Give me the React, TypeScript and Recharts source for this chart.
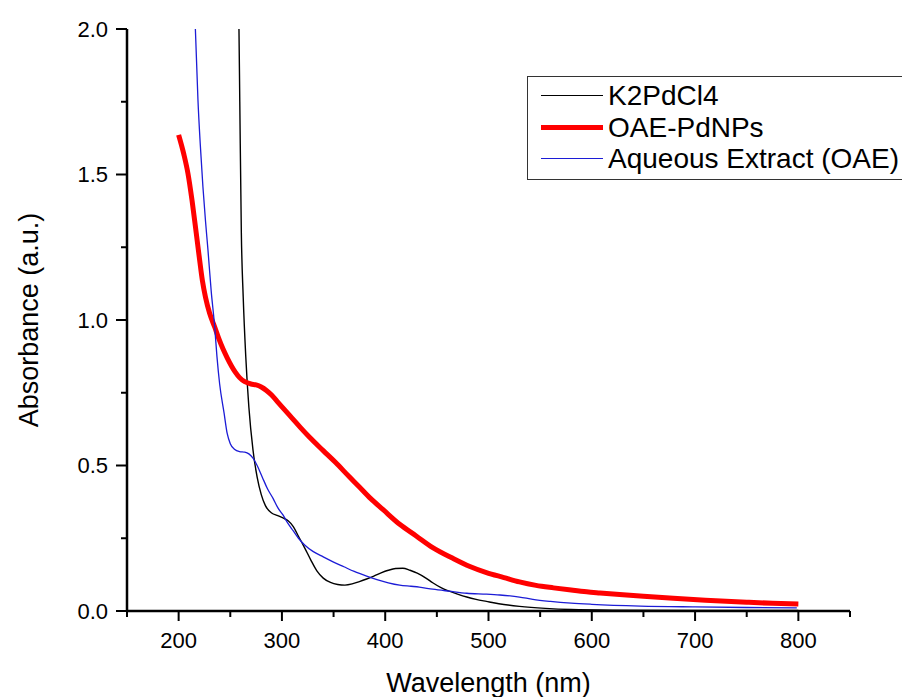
import { Label, Line, LineChart, XAxis, YAxis } from "recharts";

// wavelength (nm) / absorbance pairs
const k2Wave = [256, 258.4, 259.2, 260.7, 262.5, 265, 268, 272, 276, 280, 284, 290, 296, 301, 306, 311, 316, 322, 328, 334, 340, 347, 354, 361, 368, 375, 382, 389, 396, 403, 410, 417, 424, 431, 439, 446, 454, 462, 470, 479, 488, 498, 510, 530, 555, 580, 620, 700, 800];
const k2Abs = [2.3, 2.0, 1.75, 1.3, 1.08, 0.874, 0.7, 0.553, 0.46, 0.4, 0.362, 0.337, 0.328, 0.32, 0.31, 0.29, 0.257, 0.217, 0.175, 0.137, 0.113, 0.098, 0.091, 0.089, 0.093, 0.101, 0.11, 0.12, 0.131, 0.14, 0.146, 0.147, 0.14, 0.13, 0.114, 0.097, 0.08, 0.068, 0.058, 0.048, 0.04, 0.033, 0.025, 0.016, 0.009, 0.005, 0.003, 0.002, 0.002];

const pdWave = [200, 205, 209, 213, 217, 220, 223, 226, 230, 235, 239, 243, 247, 251, 255, 259, 264, 270, 275, 280, 285, 290, 296, 304, 310, 318, 327, 340, 352, 365, 375, 386, 398, 414, 430, 446, 465, 482, 498, 515, 530, 546, 563, 580, 595, 608, 627, 650, 679, 710, 750, 775, 800];
const pdAbs = [1.636, 1.57, 1.504, 1.41, 1.3, 1.215, 1.135, 1.078, 1.023, 0.975, 0.935, 0.9, 0.87, 0.843, 0.82, 0.802, 0.788, 0.78, 0.777, 0.77, 0.758, 0.742, 0.718, 0.686, 0.662, 0.63, 0.596, 0.551, 0.51, 0.462, 0.426, 0.386, 0.348, 0.298, 0.258, 0.218, 0.182, 0.153, 0.132, 0.115, 0.1, 0.088, 0.0795, 0.072, 0.066, 0.062, 0.0565, 0.0505, 0.0435, 0.037, 0.03, 0.0265, 0.024];

const oaeWave = [214, 216.2, 218.7, 221, 223.5, 226, 228.4, 231.5, 234.9, 237.1, 239.7, 244, 247, 250, 254, 259, 264, 268, 272, 276, 281, 286, 291.4, 296, 301, 306, 311, 316, 322, 330, 340, 349.5, 360, 370, 382, 392, 403, 414, 425, 433, 446, 462, 479, 498, 511, 530, 543, 560, 580, 600, 647, 700, 750, 798.5];
const oaeAbs = [2.25, 2.0, 1.756, 1.6, 1.458, 1.34, 1.24, 1.1, 0.977, 0.874, 0.78, 0.68, 0.61, 0.575, 0.556, 0.548, 0.546, 0.54, 0.525, 0.5, 0.46, 0.42, 0.387, 0.355, 0.33, 0.3, 0.275, 0.25, 0.227, 0.205, 0.186, 0.169, 0.152, 0.136, 0.12, 0.108, 0.097, 0.089, 0.085, 0.082, 0.075, 0.068, 0.061, 0.058, 0.055, 0.048, 0.04, 0.033, 0.027, 0.023, 0.017, 0.014, 0.012, 0.011];

const seriesNames = ["K2PdCl4", "OAE-PdNPs", "Aqueous Extract (OAE)"];
const seriesColors = ["#000000", "#ff0000", "#1c1cd6"];
const seriesWidths = [1.4, 5, 1.3];

const xTicks = [150, 200, 250, 300, 350, 400, 450, 500, 550, 600, 650, 700, 750, 800, 850];
const yTicks = [0, 0.25, 0.5, 0.75, 1.0, 1.25, 1.5, 1.75, 2.0];

const toPoints = (xs: number[], ys: number[]) => xs.map((x, i) => ({ x, y: ys[i] }));

const font = "Arial, 'Liberation Sans', sans-serif";

function XTick({ x, y, payload }: any) {
  const major = payload.value % 100 === 0;
  return (
    <g>
      <line x1={x} y1={y} x2={x} y2={y + (major ? 10 : 6)} stroke="#000" strokeWidth={2} />
      {major && (
        <text x={x} y={y + 37} textAnchor="middle" fontSize={22} fontFamily={font} fill="#000">
          {payload.value}
        </text>
      )}
    </g>
  );
}

function YTick({ x, y, payload }: any) {
  const major = Math.abs(payload.value * 2 - Math.round(payload.value * 2)) < 1e-6;
  return (
    <g>
      <line x1={x} y1={y} x2={x - (major ? 11 : 6)} y2={y} stroke="#000" strokeWidth={2} />
      {major && (
        <text x={x - 19} y={y + 7.5} textAnchor="end" fontSize={22} fontFamily={font} fill="#000">
          {payload.value.toFixed(1)}
        </text>
      )}
    </g>
  );
}

function XTitle({ viewBox }: any) {
  return (
    <text x={viewBox.x + viewBox.width / 2} y={viewBox.y + 81} textAnchor="middle" fontSize={27} fontFamily={font} fill="#000">
      Wavelength (nm)
    </text>
  );
}

function YTitle({ viewBox }: any) {
  const cx = viewBox.x + 38;
  const cy = viewBox.y + viewBox.height / 2;
  return (
    <text x={cx} y={cy} transform={`rotate(-90 ${cx} ${cy})`} textAnchor="middle" fontSize={27} fontFamily={font} fill="#000">
      Absorbance (a.u.)
    </text>
  );
}

// legend box runs off the right edge in the original
function LegendBox() {
  return (
    <div
      style={{
        position: "absolute",
        left: 527,
        top: 76,
        width: 380,
        height: 104,
        borderTop: "1.5px solid #333",
        borderBottom: "1.5px solid #333",
        borderLeft: "1.5px solid #333",
        boxSizing: "border-box",
        background: "#fff",
        fontFamily: font,
        fontSize: 28,
        color: "#000",
        paddingTop: 3
      }}
    >
      {seriesNames.map((name, i) => (
        <div key={name} style={{ display: "flex", alignItems: "center", height: 31.5, whiteSpace: "nowrap" }}>
          <div style={{ marginLeft: 13, width: 62, height: seriesWidths[i], background: seriesColors[i], flex: "none" }} />
          <span style={{ marginLeft: 5, lineHeight: "31px" }}>{name}</span>
        </div>
      ))}
    </div>
  );
}

export default function App() {
  const series = [toPoints(k2Wave, k2Abs), toPoints(pdWave, pdAbs), toPoints(oaeWave, oaeAbs)];

  return (
    <div style={{ position: "absolute", left: 0, top: 0, width: 902, height: 697, overflow: "hidden", background: "#fff" }}>
      <LineChart width={902} height={697} margin={{ top: 29, right: 52, bottom: 0, left: 0 }}>
        <XAxis
          type="number"
          dataKey="x"
          domain={[150, 850]}
          ticks={xTicks}
          interval={0}
          allowDataOverflow
          height={86}
          tickSize={0}
          tickMargin={0}
          tick={XTick}
          axisLine={{ stroke: "#000", strokeWidth: 2.5 }}
        >
          <Label content={XTitle} />
        </XAxis>
        <YAxis
          type="number"
          domain={[0, 2]}
          ticks={yTicks}
          interval={0}
          allowDataOverflow
          width={127}
          tickSize={0}
          tickMargin={0}
          tick={YTick}
          axisLine={{ stroke: "#000", strokeWidth: 2.5 }}
        >
          <Label content={YTitle} />
        </YAxis>
        {series.map((data, i) => (
          <Line
            key={seriesNames[i]}
            data={data}
            dataKey="y"
            name={seriesNames[i]}
            type="monotone"
            stroke={seriesColors[i]}
            strokeWidth={seriesWidths[i]}
            dot={false}
            activeDot={false}
            isAnimationActive={false}
          />
        ))}
      </LineChart>
      <LegendBox />
    </div>
  );
}
